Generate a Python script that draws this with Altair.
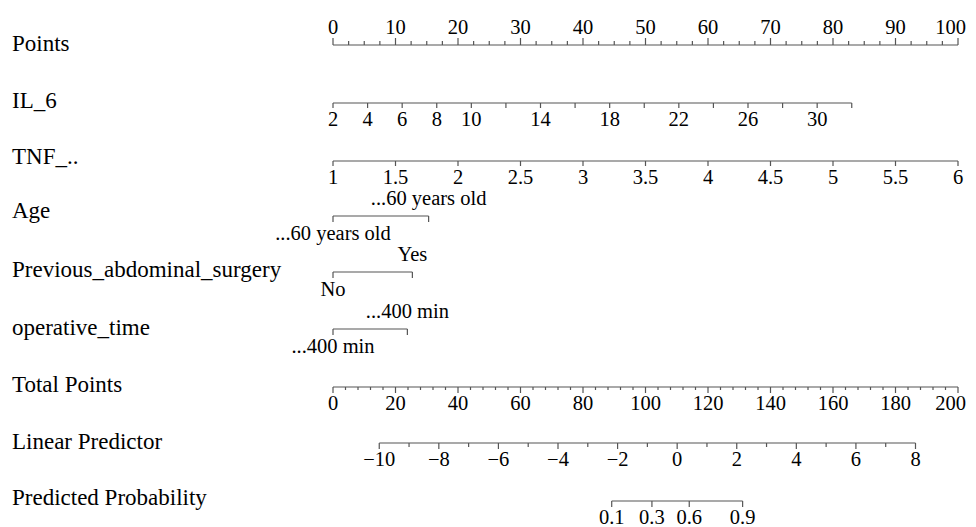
import altair as alt
import pandas as pd
import numpy as np

# ---------------- data ----------------
row_names = ["Points", "IL_6", "TNF_..", "Age", "Previous_abdominal_surgery",
             "operative_time", "Total Points", "Linear Predictor", "Predicted Probability"]

points_major = list(range(0, 101, 10))
points_minor = [v * 2.5 for v in range(0, 41)]

il6_ticks = list(range(2, 33, 2))
il6_labels = [2, 4, 6, 8, 10, 14, 18, 22, 26, 30]
il6_span = [2, 32]
il6_points = [0, 83.0]

tnf_ticks = [1, 1.5, 2, 2.5, 3, 3.5, 4, 4.5, 5, 5.5, 6]
tnf_span = [1, 6]
tnf_points = [0, 100]

age_levels = ["...60 years old", "...60 years old"]
age_points = [0, 15.3]
surgery_levels = ["No", "Yes"]
surgery_points = [0, 12.7]
optime_levels = ["...400 min", "...400 min"]
optime_points = [0, 11.9]

total_major = list(range(0, 201, 20))
total_minor = list(range(0, 201, 4))
total_span = [0, 200]
total_points = [0, 100]

lp_ticks = list(range(-10, 9))
lp_labels = list(range(-10, 9, 2))
lp_span = [-10, 8]
lp_points = [7.4, 93.2]

prob_ticks = [0.1, 0.3, 0.6, 0.9]

# ---------------- layout (page pixel rows) ----------------
row_text_y = [44, 101, 157, 211, 270, 328, 385, 442, 498]
row_line_y = [45, 103, 161, 216, 272, 329, 387, 443, 501]
FONT = "Liberation Serif"
FS_TICK = 20.5
FS_NAME = 23
GREY = "#555555"


def lin(v, span, pts):
    return pts[0] + (v - span[0]) * (pts[1] - pts[0]) / (span[1] - span[0])


def fmt(v):
    s = ("%g" % v)
    return s.replace("-", "\u2212")


lines, ticks, labels = [], [], []

# Points (ticks upward, labels above)
y = row_line_y[0]
lines.append(dict(x=0, x2=100, y=y))
for v in points_minor:
    major = v in points_major
    ticks.append(dict(x=v, y=y, y2=y - (7 if major else 4)))
for v in points_major:
    labels.append(dict(x=v, y=y - 17, text=fmt(v), edge=(v == points_major[-1])))

# IL_6
y = row_line_y[1]
lines.append(dict(x=il6_points[0], x2=il6_points[1], y=y))
for v in il6_ticks:
    ticks.append(dict(x=lin(v, il6_span, il6_points), y=y, y2=y + 5))
for v in il6_labels:
    labels.append(dict(x=lin(v, il6_span, il6_points), y=y + 17, text=fmt(v), edge=False))

# TNF
y = row_line_y[2]
lines.append(dict(x=tnf_points[0], x2=tnf_points[1], y=y))
for v in tnf_ticks:
    ticks.append(dict(x=lin(v, tnf_span, tnf_points), y=y, y2=y + 5))
    labels.append(dict(x=lin(v, tnf_span, tnf_points), y=y + 17, text=fmt(v), edge=False))

# categorical rows
for idx, levels, pts in [(3, age_levels, age_points),
                         (4, surgery_levels, surgery_points),
                         (5, optime_levels, optime_points)]:
    y = row_line_y[idx]
    lines.append(dict(x=min(pts), x2=max(pts), y=y))
    for k, (lev, p) in enumerate(zip(levels, pts)):
        ticks.append(dict(x=p, y=y, y2=y + 6))
        labels.append(dict(x=p, y=(y + 18) if k == 0 else (y - 17), text=lev, edge=False))

# Total Points
y = row_line_y[6]
lines.append(dict(x=0, x2=100, y=y))
for v in total_minor:
    major = v in total_major
    ticks.append(dict(x=lin(v, total_span, total_points), y=y, y2=y + (6 if major else 3)))
for v in total_major:
    labels.append(dict(x=lin(v, total_span, total_points), y=y + 17, text=fmt(v),
                       edge=(v == total_major[-1])))

# Linear predictor
y = row_line_y[7]
lines.append(dict(x=lp_points[0], x2=lp_points[1], y=y))
for v in lp_ticks:
    major = v in lp_labels
    ticks.append(dict(x=lin(v, lp_span, lp_points), y=y, y2=y + (6 if major else 4)))
for v in lp_labels:
    labels.append(dict(x=lin(v, lp_span, lp_points), y=y + 17, text=fmt(v), edge=False))

# Predicted probability
y = row_line_y[8]
prob_x = [lin(np.log(p / (1 - p)), lp_span, lp_points) for p in prob_ticks]
lines.append(dict(x=min(prob_x), x2=max(prob_x), y=y))
for p, xv in zip(prob_ticks, prob_x):
    ticks.append(dict(x=xv, y=y, y2=y + 6))
    labels.append(dict(x=xv, y=y + 17, text=fmt(p), edge=False))

names = pd.DataFrame(dict(name=row_names, y=row_text_y))
labels_df = pd.DataFrame(labels)

X = alt.Scale(domain=[0, 100])
Y = alt.Scale(domain=[8, 527], reverse=True)

base_x = alt.X("x:Q", scale=X, axis=None)
base_y = alt.Y("y:Q", scale=Y, axis=None)

line_layer = alt.Chart(pd.DataFrame(lines)).mark_rule(color=GREY, strokeWidth=1.2).encode(
    x=base_x, x2="x2:Q", y=base_y)
tick_layer = alt.Chart(pd.DataFrame(ticks)).mark_rule(color=GREY, strokeWidth=1.2).encode(
    x=base_x, y=base_y, y2="y2:Q")
label_layer = alt.Chart(labels_df[~labels_df.edge]).mark_text(
    font=FONT, fontSize=FS_TICK, color="black", align="center", baseline="middle").encode(
    x=base_x, y=base_y, text="text:N")
edge_layer = alt.Chart(labels_df[labels_df.edge]).mark_text(
    font=FONT, fontSize=FS_TICK, color="black", align="right", baseline="middle", dx=8).encode(
    x=base_x, y=base_y, text="text:N")
name_layer = alt.Chart(names).mark_text(
    font=FONT, fontSize=FS_NAME, color="black", align="left", baseline="middle").encode(
    x=alt.value(-321), y=alt.Y("y:Q", scale=Y, axis=None), text="name:N")

chart = alt.layer(line_layer, tick_layer, label_layer, edge_layer, name_layer).properties(
    width=625, height=519,
    autosize=alt.AutoSizeParams(type="none"),
    padding={"left": 325, "top": 0, "right": 10, "bottom": 0},
).configure_view(stroke=None)

chart.save("out.html", embed_options={"renderer": "svg", "actions": False})
